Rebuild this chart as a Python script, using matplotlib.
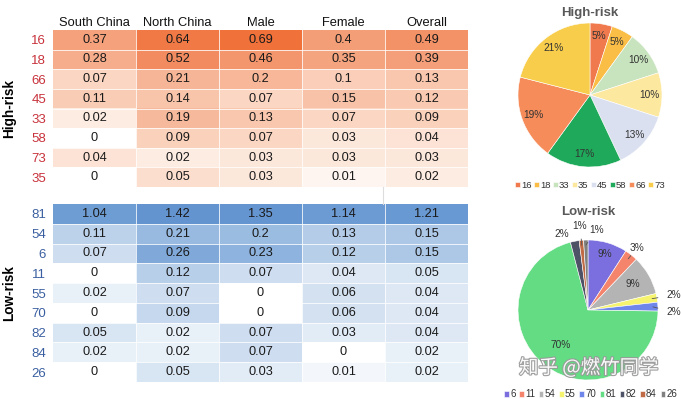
import numpy as np
import matplotlib
matplotlib.use("Agg")
import matplotlib.pyplot as plt
import matplotlib.patheffects as pe

plt.rcParams['font.family'] = ['Liberation Sans', 'DejaVu Sans']

# ---------------- data ----------------
columns = ["South China", "North China", "Male", "Female", "Overall"]

high_rows = ["16", "18", "66", "45", "33", "58", "73", "35"]
high_south = [0.37, 0.28, 0.07, 0.11, 0.02, 0, 0.04, 0]
high_north = [0.64, 0.52, 0.21, 0.14, 0.19, 0.09, 0.02, 0.05]
high_male = [0.69, 0.46, 0.2, 0.07, 0.13, 0.07, 0.03, 0.03]
high_female = [0.4, 0.35, 0.1, 0.15, 0.07, 0.03, 0.03, 0.01]
high_overall = [0.49, 0.39, 0.13, 0.12, 0.09, 0.04, 0.03, 0.02]

low_rows = ["81", "54", "6", "11", "55", "70", "82", "84", "26"]
low_south = [1.04, 0.11, 0.07, 0, 0.02, 0, 0.05, 0.02, 0]
low_north = [1.42, 0.21, 0.26, 0.12, 0.07, 0.09, 0.02, 0.02, 0.05]
low_male = [1.35, 0.2, 0.23, 0.07, 0, 0, 0.07, 0.07, 0.03]
low_female = [1.14, 0.13, 0.12, 0.04, 0.06, 0.06, 0.03, 0, 0.01]
low_overall = [1.21, 0.15, 0.15, 0.05, 0.04, 0.04, 0.04, 0.02, 0.02]

pie_high_labels = ["16", "18", "33", "35", "45", "58", "66", "73"]
pie_high_values = [5, 5, 10, 10, 13, 17, 19, 21]
pie_low_labels = ["6", "11", "54", "55", "70", "81", "82", "84", "26"]
pie_low_values = [9, 3, 9, 2, 2, 70, 2, 1, 1]

# ---------------- styles ----------------
pie_high_colors = ["#F07A4E", "#FABD46", "#C8E4BE", "#FDE8A0", "#DAE0F0",
                   "#1EAA5A", "#F58C5A", "#F8CD4B"]
pie_low_colors = ["#7B6FE0", "#F4846C", "#B4B4B4", "#F6F46E", "#6F86EA",
                  "#63DC84", "#4E5266", "#C06A46", "#808080"]

# colour scale anchors (value -> rgb)
high_anchor_v = [0, 0.02, 0.07, 0.2, 0.45, 0.69]
high_anchor_c = [(255, 255, 255), (253, 236, 226), (251, 214, 194),
                 (247, 183, 152), (244, 152, 112), (240, 114, 58)]
low_anchor_v = [0, 0.02, 0.05, 0.07, 0.12, 0.21, 0.26, 1.0, 1.42]
low_anchor_c = [(255, 255, 255), (232, 240, 248), (216, 229, 243),
                (206, 222, 240), (184, 207, 233), (152, 186, 225),
                (128, 169, 218), (112, 158, 213), (100, 148, 208)]


def to_rgb(vals, av, ac):
    vals = np.asarray(vals, dtype=float)
    ac = np.asarray(ac, dtype=float) / 255.0
    out = np.zeros(vals.shape + (3,))
    for k in range(3):
        out[..., k] = np.interp(vals, av, ac[:, k])
    return out


W, H = 681, 399
fig = plt.figure(figsize=(W / 100, H / 100), dpi=100)


def fx(px):
    return px / W


def fy(py):
    return 1 - py / H


def draw_table(rect, rows, data, av, ac, row_color, group_label, header):
    ax = fig.add_axes(rect)
    arr = np.array(data).T  # rows x cols
    rgb = to_rgb(arr, av, ac)
    nr, nc = arr.shape
    ax.imshow(rgb, aspect='auto', interpolation='nearest',
              extent=(-0.5, nc - 0.5, nr - 0.5, -0.5))
    for i in range(1, nr):
        ax.axhline(i - 0.5, color='white', lw=0.7, alpha=0.8)
    for j in range(1, nc):
        ax.axvline(j - 0.5, color='white', lw=0.7, alpha=0.8)
    for i in range(nr):
        for j in range(nc):
            ax.text(j, i, f"{arr[i, j]:g}", ha='center', va='center',
                    fontsize=9.2, color='#1a1a1a')
    ax.set_yticks(range(nr))
    ax.set_yticklabels(rows, color=row_color, fontsize=9.5)
    ax.tick_params(axis='y', length=0, pad=5)
    if header:
        ax.xaxis.tick_top()
        ax.set_xticks(range(nc))
        ax.set_xticklabels(columns, fontsize=9.3, color='#111111')
        ax.tick_params(axis='x', length=0, pad=0.5)
    else:
        ax.set_xticks([])
    for s in ax.spines.values():
        s.set_visible(False)
    ax.set_ylabel(group_label, fontsize=9.8, fontweight='bold')
    ax.yaxis.set_label_coords(-0.09, 0.5)
    return ax


x0, x1 = 53, 468
draw_table([fx(x0), fy(187), fx(x1 - x0), (187 - 30) / H], high_rows,
           [high_south, high_north, high_male, high_female, high_overall],
           high_anchor_v, high_anchor_c, '#C8323C', 'High-risk', True)
draw_table([fx(x0), fy(382), fx(x1 - x0), (382 - 204) / H], low_rows,
           [low_south, low_north, low_male, low_female, low_overall],
           low_anchor_v, low_anchor_c, '#3A5FA0', 'Low-risk', False)

# faint sheet gridline between tables
fig.add_artist(plt.Line2D([fx(383), fx(383)], [fy(187), fy(204)],
                          color='#dddddd', lw=0.8))

# ---------------- high-risk pie ----------------
cx, cy, r = 590, 95, 72
axp = fig.add_axes([fx(cx - r), fy(cy + r), 2 * r / W, 2 * r / H])
wedges, _, autotexts = axp.pie(pie_high_values, colors=pie_high_colors,
                               startangle=90, counterclock=False,
                               autopct='%d%%', pctdistance=0.83,
                               wedgeprops=dict(edgecolor='white', linewidth=0.4),
                               textprops=dict(fontsize=7.3, color='#333333'))
axp.set_xlim(-1, 1)
axp.set_ylim(-1, 1)
axp.set_title('High-risk', fontsize=9.5, fontweight='bold', color='#595959',
              pad=5)
axp.legend(wedges, pie_high_labels, ncol=8, loc='upper center',
           bbox_to_anchor=(0.5, -0.07), frameon=False, fontsize=6.8,
           handlelength=0.45, handleheight=0.45, handletextpad=0.15,
           columnspacing=0.3, borderaxespad=0, labelcolor='#333333')

# ---------------- low-risk pie ----------------
cx, cy, r = 588, 310, 70
axl = fig.add_axes([fx(cx - r), fy(cy + r), 2 * r / W, 2 * r / H])
wl, _ = axl.pie(pie_low_values, colors=pie_low_colors, startangle=90,
                counterclock=False,
                wedgeprops=dict(edgecolor='white', linewidth=0.4))
axl.set_xlim(-1, 1)
axl.set_ylim(-1, 1)
axl.set_title('Low-risk', fontsize=9.5, fontweight='bold', color='#595959',
              pad=18)

# label placement per slice: (inside?, radius, angle offset deg)
low_label_style = [(True, 0.84, 0), (False, 1.13, 0), (True, 0.74, 0),
                   (False, 1.24, 0), (False, 1.22, -4), (True, 0.63, 0),
                   (False, 1.15, 8), (False, 1.21, 0), (False, 1.15, -8)]
for w, v, (inside, rl, off) in zip(wl, pie_low_values, low_label_style):
    th = np.deg2rad((w.theta1 + w.theta2) / 2)
    txt = f"{v:d}%"
    if inside:
        axl.text(rl * np.cos(th), rl * np.sin(th), txt, ha='center',
                 va='center', fontsize=7.3, color='#333333')
    else:
        tl = th + np.deg2rad(off)
        lx, ly = rl * np.cos(tl), rl * np.sin(tl)
        axl.annotate(txt, xy=(0.93 * np.cos(th), 0.93 * np.sin(th)),
                     xytext=(lx, ly), ha='center', va='center',
                     fontsize=7.3, color='#333333', annotation_clip=False,
                     arrowprops=dict(arrowstyle='-', color='#555555', lw=0.6,
                                     shrinkA=4, shrinkB=0))
axl.legend(wl, pie_low_labels, ncol=9, loc='upper center',
           bbox_to_anchor=(0.52, -0.04), frameon=False, fontsize=7,
           handlelength=0.45, handleheight=0.45, handletextpad=0.15,
           columnspacing=0.38, borderaxespad=0, labelcolor='#333333')

# watermark
fig.text(fx(589), fy(368), '知乎 @燃竹同学', ha='center', va='center',
         fontsize=14, color='white', alpha=0.95,
         family=['Noto Sans CJK SC', 'DejaVu Sans'],
         path_effects=[pe.withStroke(linewidth=1.6, foreground='#9a9a9a')])

fig.savefig('out.png', dpi=100)
